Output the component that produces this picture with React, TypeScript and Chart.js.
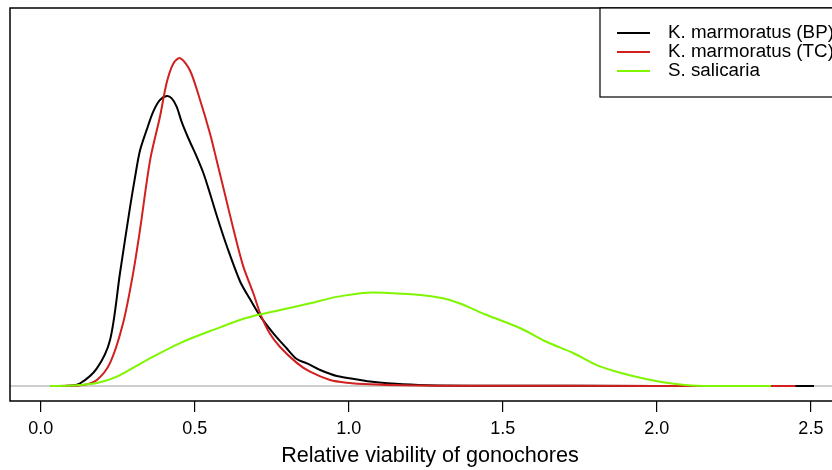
import React, { useEffect, useRef } from "react";
import { Chart, registerables } from "chart.js";

Chart.register(...registerables);

const seriesNames = ["K. marmoratus (BP)", "K. marmoratus (TC)", "S. salicaria"];
const seriesColors = ["#000000", "#D0201F", "#7FF500"];

const bpX = [0.03, 0.09, 0.128, 0.182, 0.225, 0.257, 0.29, 0.306, 0.322, 0.344, 0.365, 0.387, 0.409, 0.425, 0.441, 0.457, 0.479, 0.506, 0.528, 0.549, 0.571, 0.604, 0.647, 0.679, 0.711, 0.755, 0.798, 0.831, 0.864, 0.907, 0.961, 1.037, 1.069, 1.176, 1.287, 1.5, 2.0, 2.51];
const bpY = [0, 0.002, 0.025, 0.16, 0.42, 1.025, 1.63, 1.9, 2.14, 2.33, 2.494, 2.6, 2.636, 2.615, 2.54, 2.403, 2.252, 2.085, 1.934, 1.752, 1.55, 1.27, 0.95, 0.79, 0.64, 0.479, 0.343, 0.245, 0.205, 0.145, 0.09, 0.055, 0.04, 0.015, 0.005, 0.002, 0.001, 0];

const tcX = [0.06, 0.138, 0.182, 0.225, 0.267, 0.3, 0.322, 0.355, 0.387, 0.409, 0.43, 0.452, 0.484, 0.517, 0.549, 0.571, 0.598, 0.625, 0.657, 0.69, 0.712, 0.743, 0.776, 0.831, 0.874, 0.939, 0.994, 1.069, 1.176, 1.4, 2.0, 2.45];
const tcY = [0, 0.01, 0.055, 0.21, 0.57, 1.03, 1.418, 2.055, 2.45, 2.76, 2.93, 2.98, 2.87, 2.6, 2.297, 2.05, 1.74, 1.43, 1.09, 0.843, 0.661, 0.479, 0.357, 0.21, 0.13, 0.055, 0.03, 0.015, 0.006, 0.002, 0.001, 0];

const ssX = [0.03, 0.1, 0.182, 0.247, 0.344, 0.452, 0.56, 0.669, 0.777, 0.874, 0.961, 1.058, 1.144, 1.232, 1.306, 1.361, 1.448, 1.557, 1.643, 1.728, 1.805, 1.881, 1.968, 2.043, 2.13, 2.37];
const ssY = [0, 0.004, 0.027, 0.085, 0.236, 0.39, 0.51, 0.62, 0.69, 0.752, 0.81, 0.848, 0.843, 0.827, 0.797, 0.75, 0.645, 0.525, 0.4, 0.3, 0.19, 0.12, 0.061, 0.025, 0.003, 0];

const tickValues = [0, 0.5, 1.0, 1.5, 2.0, 2.5];
const xTitle = "Relative viability of gonochores";

const X_MIN = -0.1;
const X_MAX = 2.627;
const Y_MIN = -0.1364;
const Y_MAX = 3.436;

const FONT = "'Liberation Sans', Arial, Helvetica, sans-serif";

function pts(xs: number[], ys: number[]) {
  return xs.map((x, i) => ({ x, y: ys[i] }));
}

const framePlugin = {
  id: "frame",
  afterDraw(chart: any) {
    const { ctx, chartArea } = chart;
    ctx.save();
    ctx.strokeStyle = "#000";
    ctx.lineWidth = 1.5;
    ctx.strokeRect(chartArea.left, chartArea.top, chartArea.right - chartArea.left, chartArea.bottom - chartArea.top);

    // legend (R-style, top-right)
    const right = chartArea.right;
    const top = chartArea.top;
    const boxLeft = right - 250;
    const boxBottom = top + 89;
    ctx.fillStyle = "#fff";
    ctx.fillRect(boxLeft, top, right - boxLeft, boxBottom - top);
    ctx.lineWidth = 1.2;
    ctx.strokeRect(boxLeft, top, right - boxLeft, boxBottom - top);
    ctx.font = `18.8px ${FONT}`;
    ctx.textBaseline = "middle";
    ctx.textAlign = "left";
    seriesNames.forEach((name, i) => {
      const y = top + 25 + i * 19;
      ctx.strokeStyle = seriesColors[i];
      ctx.lineWidth = 2;
      ctx.beginPath();
      ctx.moveTo(boxLeft + 17, y);
      ctx.lineTo(boxLeft + 50, y);
      ctx.stroke();
      ctx.fillStyle = "#000";
      ctx.fillText(name, boxLeft + 68, y);
    });
    ctx.restore();
  },
};

export default function App() {
  const ref = useRef<HTMLCanvasElement>(null);
  useEffect(() => {
    if (!ref.current) return;
    const line = (i: number, data: any[], order: number) => ({
      label: seriesNames[i],
      data,
      borderColor: seriesColors[i],
      borderWidth: 2,
      pointRadius: 0,
      tension: 0.3,
      order,
    });
    const chart = new Chart(ref.current, {
      type: "line",
      data: {
        datasets: [
          {
            label: "baseline",
            data: [
              { x: X_MIN, y: 0 },
              { x: X_MAX, y: 0 },
            ],
            borderColor: "#BEBEBE",
            borderWidth: 1.5,
            pointRadius: 0,
            order: 10,
          },
          line(0, pts(bpX, bpY), 3),
          line(1, pts(tcX, tcY), 2),
          line(2, pts(ssX, ssY), 1),
        ],
      },
      options: {
        animation: false,
        responsive: false,
        devicePixelRatio: 1,
        layout: { padding: { left: 10, top: 8, right: 2, bottom: 0 } },
        plugins: { legend: { display: false }, tooltip: { enabled: false } },
        scales: {
          x: {
            type: "linear",
            min: X_MIN,
            max: X_MAX,
            afterBuildTicks: (scale: any) => {
              scale.ticks = tickValues.map((v) => ({ value: v }));
            },
            afterFit: (scale: any) => {
              scale.height = 69;
            },
            ticks: {
              color: "#000",
              font: { family: FONT, size: 18 },
              padding: 6,
              maxRotation: 0,
              autoSkip: false,
              callback: (v: any) => Number(v).toFixed(1),
            },
            grid: {
              drawOnChartArea: false,
              drawTicks: true,
              tickLength: 11,
              color: "#000",
              lineWidth: 1.2,
            },
            border: { display: false },
            title: {
              display: true,
              text: xTitle,
              color: "#000",
              font: { family: FONT, size: 21.6 },
              padding: { top: 0, bottom: 1 },
            },
          },
          y: {
            type: "linear",
            display: false,
            min: Y_MIN,
            max: Y_MAX,
          },
        },
      },
      plugins: [framePlugin],
    });
    return () => chart.destroy();
  }, []);
  return (
    <div style={{ position: "absolute", left: 0, top: 0, width: 832, height: 470, overflow: "hidden", background: "#fff" }}>
      <canvas ref={ref} width={852} height={470} style={{ width: 852, height: 470, display: "block" }} />
    </div>
  );
}
